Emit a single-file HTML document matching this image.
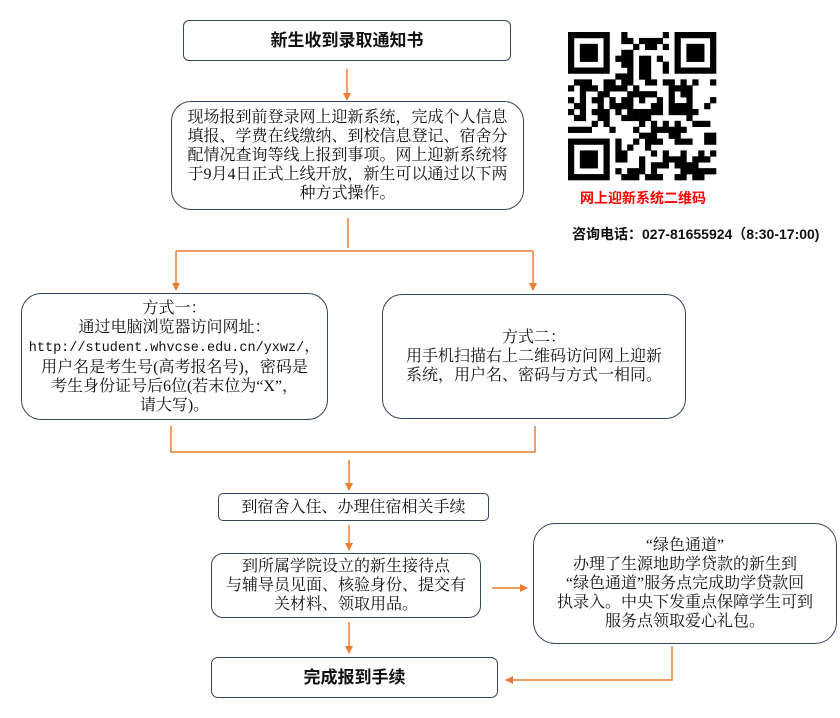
<!DOCTYPE html>
<html><head><meta charset="utf-8">
<style>
body{margin:0;width:840px;height:718px;background:#fff;position:relative;overflow:hidden;font-family:"Liberation Serif","Noto Serif CJK SC","Noto Sans CJK SC",serif;color:#111}
.b{position:absolute;box-sizing:border-box;border:1.8px solid #34445f;background:#fff;display:flex;align-items:center;justify-content:center;text-align:center;font-size:16px;line-height:19px;white-space:nowrap}
.bold{font-family:"Liberation Sans","Noto Sans CJK SC",sans-serif;font-weight:bold;font-size:17px}
.t{position:absolute;font-family:"Liberation Sans","Noto Sans CJK SC",sans-serif;white-space:nowrap}
</style></head><body>
<svg width="840" height="718" style="position:absolute;left:0;top:0">
<defs><marker id="a" markerWidth="8" markerHeight="8" refX="7" refY="4" orient="auto" markerUnits="userSpaceOnUse"><path d="M0,0 L8,4 L0,8 z" fill="#ed7d31"/></marker></defs>
<g stroke="#ed7d31" stroke-width="1.5" fill="none">
<line x1="347" y1="69" x2="347" y2="100" marker-end="url(#a)"/>
<polyline points="348,218 348,248"/>
<polyline points="176,251 533,251"/>
<line x1="176" y1="251" x2="176" y2="290" marker-end="url(#a)"/>
<line x1="533" y1="251" x2="533" y2="290" marker-end="url(#a)"/>
<polyline points="171,426 171,452 535,452 535,426"/>
<line x1="349" y1="460" x2="349" y2="490" marker-end="url(#a)"/>
<line x1="349" y1="525" x2="349" y2="550" marker-end="url(#a)"/>
<line x1="349" y1="622" x2="349" y2="653" marker-end="url(#a)"/>
<line x1="492" y1="588" x2="527" y2="588" marker-end="url(#a)"/>
<polyline points="672,646 672,680 506,680" marker-end="url(#a)"/>
</g>
<g id="qr" transform="translate(568,32)"></g>
</svg>
<div class="b bold" style="left:183px;top:20px;width:328px;height:41px;border-radius:6px"><div>新生收到录取通知书</div></div>
<div class="b" style="left:171px;top:101px;width:353px;height:109px;border-radius:20px"><div>现场报到前登录网上迎新系统，完成个人信息<br>填报、学费在线缴纳、到校信息登记、宿舍分<br>配情况查询等线上报到事项。网上迎新系统将<br>于9月4日正式上线开放，新生可以通过以下两<br>种方式操作。</div></div>
<div class="b" style="left:21px;top:293px;width:307px;height:127px;border-radius:20px"><div>方式一：<br>通过电脑浏览器访问网址：<br><span style="font-family:'Liberation Mono',monospace;font-size:13.5px">http://student.whvcse.edu.cn/yxwz/</span>，<br>用户名是考生号(高考报名号)，密码是<br>考生身份证号后6位(若末位为“X”，<br>请大写)。</div></div>
<div class="b" style="left:382px;top:294px;width:304px;height:125px;border-radius:20px"><div>方式二：<br>用手机扫描右上二维码访问网上迎新<br>系统，用户名、密码与方式一相同。</div></div>
<div class="b" style="left:218px;top:493px;width:271px;height:28px;border-radius:5px"><div>到宿舍入住、办理住宿相关手续</div></div>
<div class="b" style="left:211px;top:553px;width:270px;height:65px;border-radius:12px"><div>到所属学院设立的新生接待点<br>与辅导员见面、核验身份、提交有<br>关材料、领取用品。</div></div>
<div class="b" style="left:533px;top:523px;width:304px;height:121px;border-radius:22px"><div>“绿色通道”<br>办理了生源地助学贷款的新生到<br>“绿色通道”服务点完成助学贷款回<br>执录入。中央下发重点保障学生可到<br>服务点领取爱心礼包。</div></div>
<div class="b bold" style="left:211px;top:657px;width:287px;height:41px;border-radius:7px"><div>完成报到手续</div></div>
<div class="t" style="left:580px;top:188px;font-size:14px;font-weight:bold;color:#f00">网上迎新系统二维码</div>
<div class="t" style="left:572px;top:224px;font-size:14px;font-weight:bold;color:#111">咨询电话：027-81655924（8:30-17:00)</div>
<script>
(function(){var g=document.getElementById('qr'),n=25,s=148/25,h='';var seed=7;function r(){seed=(seed*1103515245+12345)%2147483648;return seed/2147483648;}
function f(x,y){return (x<8&&y<8)||(x>16&&y<8)||(x<8&&y>16);}
for(var y=0;y<n;y++)for(var x=0;x<n;x++){var on;if(f(x,y)){var cx=x>16?x-18:x,cy=y>16?y-18:y;if(cx<0||cy<0||cx>6||cy>6)on=false;else on=(cx==0||cx==6||cy==0||cy==6)||(cx>=2&&cx<=4&&cy>=2&&cy<=4);}else on=r()<0.5;
if(on)h+='<rect x="'+(x*s).toFixed(2)+'" y="'+(y*s).toFixed(2)+'" width="'+(s+0.3).toFixed(2)+'" height="'+(s+0.3).toFixed(2)+'" fill="#000"/>';}
g.innerHTML=h;})();
</script>
</body></html>
